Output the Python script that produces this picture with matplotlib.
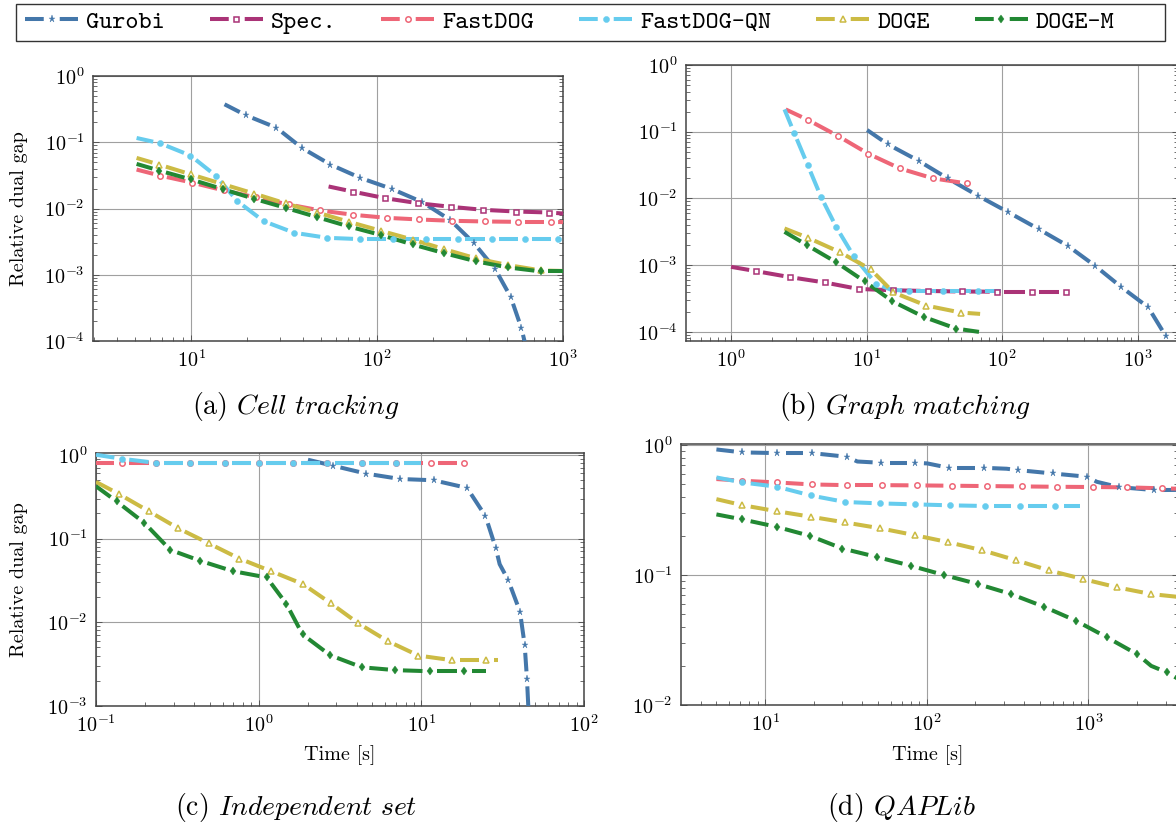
import numpy as np
import matplotlib
matplotlib.use("Agg")
import matplotlib.pyplot as plt
from matplotlib.lines import Line2D
from matplotlib.patches import Rectangle
from matplotlib.ticker import LogLocator, FuncFormatter, NullFormatter
from matplotlib.font_manager import FontProperties

plt.rcParams.update({
    "font.family": ["cmr10", "DejaVu Serif"],
    "mathtext.fontset": "cm",
    "axes.formatter.use_mathtext": True,
    "axes.unicode_minus": False,
    "lines.scale_dashes": False,
})

# ---------------- data ----------------
SERIES = ["Gurobi", "Spec.", "FastDOG", "FastDOG-QN", "DOGE", "DOGE-M"]
COLORS = ["#4477AA", "#AA3377", "#EE6677", "#66CCEE", "#CCBB44", "#228833"]

# (a) Cell tracking
A_GUR_X = [15.1, 19.7, 28.7, 39.4, 56.1, 81.2, 119.7, 174.8, 246.6, 330.8, 430.9, 523.4, 597, 640]
A_GUR_Y = [0.374, 0.255, 0.166, 0.082, 0.046, 0.029, 0.0198, 0.0125, 0.00675, 0.00303, 0.00123, 0.00046, 0.000157, 0.00007]
A_GUR_M = list(range(1, 13))
A_SPEC_X = [54.8, 73.9, 110.5, 166.7, 249, 372, 561, 843, 1000]
A_SPEC_Y = [0.0215, 0.0180, 0.0143, 0.0120, 0.0106, 0.00955, 0.0090, 0.0087, 0.0084]
A_SPEC_M = list(range(1, 8))
A_FD_X = [5.08, 6.79, 10.1, 15.0, 22.3, 33.4, 49.5, 74.6, 112.5, 168, 252, 381, 572, 863, 1000]
A_FD_Y = [0.0387, 0.0314, 0.0246, 0.0187, 0.0147, 0.0115, 0.00933, 0.00803, 0.00723, 0.00683, 0.00652, 0.00637, 0.00629, 0.00629, 0.00623]
A_FD_M = list(range(1, 14))
A_QN_X = [5.08, 6.79, 9.9, 13.6, 17.7, 24.5, 35.8, 53.8, 80.9, 121, 183, 274, 415, 626, 944, 1000]
A_QN_Y = [0.116, 0.0966, 0.063, 0.031, 0.0129, 0.00644, 0.0043, 0.00361, 0.00345, 0.00345, 0.00345, 0.00345, 0.00345, 0.00345, 0.00345, 0.00345]
A_QN_M = list(range(1, 15))
A_DOGE_X = [5.08, 6.72, 10, 14.8, 21.8, 32.3, 47.6, 70.5, 105, 155, 229, 342, 506, 764, 1000]
A_DOGE_Y = [0.058, 0.046, 0.0326, 0.0233, 0.0168, 0.0119, 0.0087, 0.0063, 0.0046, 0.0034, 0.00244, 0.00176, 0.0014, 0.00116, 0.00114]
A_DOGE_M = list(range(1, 14))
A_DOGEM_X = [5.08, 6.72, 10, 14.8, 21.8, 32.3, 47.6, 70.5, 105, 155, 229, 342, 506, 764, 1000]
A_DOGEM_Y = [0.0471, 0.0374, 0.0274, 0.0196, 0.014, 0.0102, 0.0074, 0.00535, 0.00397, 0.00287, 0.00212, 0.00159, 0.00129, 0.00112, 0.00112]
A_DOGEM_M = list(range(1, 14))

# (b) Graph matching
B_GUR_X = [10.1, 14.4, 24.2, 39.7, 66.4, 111.6, 186.6, 308, 489, 759, 1199, 1619]
B_GUR_Y = [0.106, 0.0646, 0.0367, 0.020, 0.011, 0.0062, 0.00347, 0.00193, 0.00097, 0.00047, 0.000234, 0.000086]
B_GUR_M = list(range(1, 12))
B_SPEC_X = [1.0, 1.53, 2.74, 4.91, 8.73, 15.7, 28.2, 51, 91.4, 166, 298]
B_SPEC_Y = [0.000944, 0.000813, 0.00066, 0.00055, 0.00044, 0.00042, 0.00041, 0.000403, 0.0004, 0.0004, 0.0004]
B_SPEC_M = list(range(1, 11))
B_FD_X = [2.53, 3.70, 6.18, 10.3, 17.6, 30.9, 55]
B_FD_Y = [0.216, 0.150, 0.086, 0.0468, 0.0282, 0.020, 0.0168]
B_FD_M = list(range(1, 7))
B_QN_X = [2.48, 2.92, 3.68, 4.61, 6.0, 8.05, 11.7, 15.1, 20.6, 36.8, 66.8, 98.5]
B_QN_Y = [0.216, 0.0966, 0.0316, 0.0106, 0.00367, 0.00136, 0.00053, 0.00043, 0.00041, 0.00041, 0.00041, 0.00041]
B_QN_M = [1, 2, 3, 4, 5, 6, 8, 9, 10]
B_DOGE_X = [2.48, 3.70, 6.34, 10.7, 15.8, 27.6, 49.5, 68.9]
B_DOGE_Y = [0.00355, 0.00257, 0.00157, 0.00087, 0.00039, 0.000248, 0.000195, 0.000186]
B_DOGE_M = list(range(1, 7))
B_DOGEM_X = [2.48, 3.63, 6.0, 9.7, 15.5, 26.4, 45.9, 67.6]
B_DOGEM_Y = [0.00316, 0.002, 0.0011, 0.00057, 0.000288, 0.000168, 0.000112, 0.0001]
B_DOGEM_M = list(range(1, 7))

# (c) Independent set
C_GUR_X = [2.01, 2.87, 4.59, 7.41, 11.9, 19.1, 24.8, 28.7, 30.3, 34.2, 40.4, 43.2, 44.6, 45.5]
C_GUR_Y = [0.872, 0.74, 0.595, 0.514, 0.496, 0.402, 0.185, 0.0766, 0.0494, 0.0319, 0.0134, 0.0053, 0.00211, 0.00095]
C_GUR_M = [1, 2, 3, 4, 5, 6, 7, 9, 10, 11, 12]
C_FD_X = [0.1, 0.144, 0.234, 0.38, 0.618, 1.0, 1.63, 2.64, 4.30, 7.0, 11.4, 18.4]
C_FD_Y = [0.8, 0.8, 0.8, 0.8, 0.8, 0.8, 0.8, 0.8, 0.8, 0.8, 0.8, 0.8]
C_FD_M = list(range(1, 12))
C_QN_X = [0.1, 0.144, 0.234, 0.38, 0.618, 1.0, 1.63, 2.64, 4.30, 7.0, 10.0]
C_QN_Y = [1.0, 0.896, 0.8, 0.8, 0.8, 0.8, 0.8, 0.8, 0.8, 0.8, 0.8]
C_QN_M = list(range(1, 10))
C_DOGE_X = [0.1, 0.138, 0.211, 0.319, 0.492, 0.760, 1.19, 1.87, 2.77, 4.08, 6.2, 9.6, 15.5, 25.1, 29.5]
C_DOGE_Y = [0.474, 0.341, 0.212, 0.133, 0.0878, 0.0577, 0.0408, 0.0286, 0.0169, 0.00977, 0.00597, 0.004, 0.00352, 0.00352, 0.00352]
C_DOGE_M = list(range(1, 14))
C_DOGEM_X = [0.1, 0.134, 0.198, 0.286, 0.437, 0.693, 1.12, 1.48, 1.86, 2.75, 4.31, 6.93, 11.3, 18.3, 25.1]
C_DOGEM_Y = [0.421, 0.277, 0.154, 0.0732, 0.0542, 0.0408, 0.0343, 0.0166, 0.00716, 0.00404, 0.0029, 0.00268, 0.0026, 0.0026, 0.0026]
C_DOGEM_M = list(range(1, 14))

# (d) QAPLib
D_GUR_X = [5.0, 7.23, 11.9, 19.5, 32.1, 37.2, 52.2, 85.1, 100.8, 137, 225, 312, 369, 601, 980, 1127, 1545, 2547, 3550]
D_GUR_Y = [0.926, 0.879, 0.868, 0.868, 0.813, 0.748, 0.731, 0.731, 0.723, 0.669, 0.669, 0.658, 0.642, 0.605, 0.571, 0.522, 0.475, 0.451, 0.452]
D_GUR_M = [1, 2, 3, 4, 6, 7, 9, 10, 12, 13, 14, 16, 17]
D_FD_X = [5.0, 7.23, 11.9, 19.5, 32.1, 52.8, 87, 143, 236, 390, 640, 1060, 1740, 2870, 3550]
D_FD_Y = [0.548, 0.532, 0.516, 0.498, 0.492, 0.492, 0.49, 0.487, 0.484, 0.481, 0.478, 0.476, 0.473, 0.465, 0.462]
D_FD_M = list(range(1, 14))
D_QN_X = [5, 7.23, 11.9, 19.1, 31.3, 51.5, 84.8, 140, 230, 375, 624, 891]
D_QN_Y = [0.564, 0.516, 0.478, 0.41, 0.365, 0.356, 0.35, 0.344, 0.34, 0.34, 0.34, 0.34]
D_QN_M = list(range(1, 11))
D_DOGE_X = [5, 7.23, 11.8, 19.2, 31.3, 51.5, 84, 136, 221, 357, 570, 929, 1506, 2443, 3550]
D_DOGE_Y = [0.384, 0.345, 0.31, 0.281, 0.254, 0.229, 0.203, 0.179, 0.155, 0.13, 0.1086, 0.0931, 0.0804, 0.0714, 0.068]
D_DOGE_M = list(range(1, 14))
D_DOGEM_X = [5, 7.23, 11.8, 19.0, 30.1, 48.9, 79.6, 128, 207, 332, 532, 837, 1300, 2010, 2443, 3065, 3550]
D_DOGEM_Y = [0.293, 0.268, 0.235, 0.2, 0.16, 0.138, 0.118, 0.1, 0.0853, 0.0714, 0.057, 0.0445, 0.0332, 0.0245, 0.02, 0.0178, 0.016]
D_DOGEM_M = list(range(1, 14)) + [15]

PANEL_A = [("Gurobi", A_GUR_X, A_GUR_Y, A_GUR_M), ("Spec.", A_SPEC_X, A_SPEC_Y, A_SPEC_M),
           ("FastDOG", A_FD_X, A_FD_Y, A_FD_M), ("FastDOG-QN", A_QN_X, A_QN_Y, A_QN_M),
           ("DOGE", A_DOGE_X, A_DOGE_Y, A_DOGE_M), ("DOGE-M", A_DOGEM_X, A_DOGEM_Y, A_DOGEM_M)]
PANEL_B = [("Gurobi", B_GUR_X, B_GUR_Y, B_GUR_M), ("Spec.", B_SPEC_X, B_SPEC_Y, B_SPEC_M),
           ("FastDOG", B_FD_X, B_FD_Y, B_FD_M), ("FastDOG-QN", B_QN_X, B_QN_Y, B_QN_M),
           ("DOGE", B_DOGE_X, B_DOGE_Y, B_DOGE_M), ("DOGE-M", B_DOGEM_X, B_DOGEM_Y, B_DOGEM_M)]
PANEL_C = [("Gurobi", C_GUR_X, C_GUR_Y, C_GUR_M), ("FastDOG", C_FD_X, C_FD_Y, C_FD_M),
           ("FastDOG-QN", C_QN_X, C_QN_Y, C_QN_M), ("DOGE", C_DOGE_X, C_DOGE_Y, C_DOGE_M),
           ("DOGE-M", C_DOGEM_X, C_DOGEM_Y, C_DOGEM_M)]
PANEL_D = [("Gurobi", D_GUR_X, D_GUR_Y, D_GUR_M), ("FastDOG", D_FD_X, D_FD_Y, D_FD_M),
           ("FastDOG-QN", D_QN_X, D_QN_Y, D_QN_M), ("DOGE", D_DOGE_X, D_DOGE_Y, D_DOGE_M),
           ("DOGE-M", D_DOGEM_X, D_DOGEM_Y, D_DOGEM_M)]

CAPTIONS = [r"(a) $\mathit{Cell\ tracking}$", r"(b) $\mathit{Graph\ matching}$",
            r"(c) $\mathit{Independent\ set}$", r"(d) $\mathit{QAPLib}$"]
YLABEL = "Relative dual gap"
XLABEL = "Time [s]"

# ---------------- style ----------------
W, H = 1176, 826
LW = 2.9
MSTYLE = {
    "Gurobi": dict(marker="*", ms=5.2, mfc="fill", mew=0.3),
    "Spec.": dict(marker="s", ms=3.6, mfc="white", mew=1.1),
    "FastDOG": dict(marker="o", ms=3.9, mfc="white", mew=1.1),
    "FastDOG-QN": dict(marker="o", ms=4.4, mfc="fill", mew=0.3),
    "DOGE": dict(marker="^", ms=4.5, mfc="white", mew=1.1),
    "DOGE-M": dict(marker="d", ms=4.3, mfc="fill", mew=0.3),
}
CMAP = dict(zip(SERIES, COLORS))


def px_rect(l, t, r, b):
    return [l / W, 1 - b / H, (r - l) / W, (b - t) / H]


def mk_kw(name):
    st = MSTYLE[name]
    c = CMAP[name]
    return dict(marker=st["marker"], ms=st["ms"], mec=c,
                mfc=c if st["mfc"] == "fill" else st["mfc"], mew=st["mew"])


def draw_series(ax, name, x, y, marks, gap, period=34.0):
    x = np.asarray(x, float)
    y = np.asarray(y, float)
    pts = ax.transData.transform(np.column_stack([x, y]))
    seg = np.hypot(*np.diff(pts, axis=0).T)
    s = np.concatenate([[0.0], np.cumsum(seg)])
    S = s[-1]
    centers = sorted(s[i] for i in marks)
    bounds = [0.0] + centers + [S]
    allc = list(centers)
    for a, b in zip(bounds[:-1], bounds[1:]):
        d = b - a
        if d > 1.5 * period:
            n = int(round(d / period))
            allc += [a + k * d / n for k in range(1, n)]
    allc.sort()
    intervals = []
    cur = 0.0
    for c in allc:
        lo, hi = c - gap / 2, c + gap / 2
        if lo > cur:
            intervals.append((cur, lo))
        cur = max(cur, hi)
    if cur < S:
        intervals.append((cur, S))
    inv = ax.transData.inverted()
    for a, b in intervals:
        pa = [np.interp(a, s, pts[:, 0]), np.interp(a, s, pts[:, 1])]
        pb = [np.interp(b, s, pts[:, 0]), np.interp(b, s, pts[:, 1])]
        inner = pts[(s > a) & (s < b)]
        sp = np.vstack([[pa], inner, [pb]])
        d = inv.transform(sp)
        ax.plot(d[:, 0], d[:, 1], color=CMAP[name], lw=LW,
                solid_capstyle="butt", solid_joinstyle="round", zorder=3)
    mi = np.asarray(marks, int)
    ax.plot(x[mi], y[mi], ls="none", zorder=4, **mk_kw(name))


def setup(ax, xlim, ylim):
    ax.set_xscale("log")
    ax.set_yscale("log")
    ax.set_xlim(*xlim)
    ax.set_ylim(*ylim)
    fmt = FuncFormatter(lambda v, p: r"$10^{%d}$" % int(round(np.log10(v))))
    for axis in (ax.xaxis, ax.yaxis):
        axis.set_major_locator(LogLocator(base=10, numticks=30))
        axis.set_minor_locator(LogLocator(base=10, subs=np.arange(2, 10), numticks=30))
        axis.set_major_formatter(fmt)
        axis.set_minor_formatter(NullFormatter())
    ax.grid(True, which="major", color="#a0a0a0", lw=0.8)
    ax.set_axisbelow(True)
    ax.tick_params(which="both", direction="in", top=False, right=True,
                   bottom=True, left=True, labelsize=14.5, color="#555555")
    ax.tick_params(which="major", length=4.5, width=0.7)
    ax.tick_params(which="minor", length=2.8, width=0.6)
    ax.tick_params(axis="x", pad=6)
    ax.tick_params(axis="y", pad=6)
    for sp in ax.spines.values():
        sp.set_linewidth(1.1)
        sp.set_color("#444444")


fig = plt.figure(figsize=(W / 100, H / 100), dpi=100)

PANELS = [
    (PANEL_A, px_rect(93, 76, 563, 341), (2.96, 1000), (1e-4, 1.0), 14),
    (PANEL_B, px_rect(686, 65, 1178, 341), (0.465, 1990), (7.3e-5, 1.0), 14),
    (PANEL_C, px_rect(96, 453, 584, 706), (0.1, 100), (1e-3, 1.05), 15),
    (PANEL_D, px_rect(681, 444, 1178, 705), (3.02, 3580), (1e-2, 1.02), 17),
]
axes = []
for data, rect, xl, yl, gap in PANELS:
    ax = fig.add_axes(rect)
    setup(ax, xl, yl)
    for name, x, y, m in data:
        draw_series(ax, name, x, y, m, gap)
    axes.append(ax)

for ax in (axes[0], axes[2]):
    ax.set_ylabel(YLABEL, fontsize=14.5, va="center", ha="center")
axes[0].yaxis.set_label_coords((19 - 93) / 470, 0.5)
axes[2].yaxis.set_label_coords((19 - 96) / 488, 0.5)
for ax in (axes[2], axes[3]):
    ax.set_xlabel(XLABEL, fontsize=14.5, va="center", ha="center")
axes[2].xaxis.set_label_coords(0.5, -(755 - 706) / 253)
axes[3].xaxis.set_label_coords((928 - 681) / 497, -(755 - 705) / 261)

CAP_POS = [(296, 407), (905, 407), (296, 807), (901, 807)]
for txt, (cx, cy) in zip(CAPTIONS, CAP_POS):
    fig.text(cx / W, 1 - cy / H, txt, fontsize=20, ha="center", va="center")

# legend
handles = []
for name in SERIES:
    handles.append(Line2D([], [], color=CMAP[name], lw=LW, linestyle=(0, (13.5, 11.5)),
                          **mk_kw(name)))
fig.legend(handles, SERIES, loc="center left",
           bbox_to_anchor=(25 / W, 1 - 22 / H), bbox_transform=fig.transFigure,
           ncol=6, frameon=False, prop=FontProperties(family="cmtt10", size=18),
           handlelength=2.12, handletextpad=0.32, columnspacing=1.8,
           borderpad=0.0, borderaxespad=0.0, numpoints=1)
fig.patches.append(Rectangle((16 / W, 1 - 41 / H), 1149 / W, 37 / H,
                             transform=fig.transFigure, fill=False,
                             edgecolor="#333333", lw=1.0))

fig.savefig("out.png", dpi=100)
